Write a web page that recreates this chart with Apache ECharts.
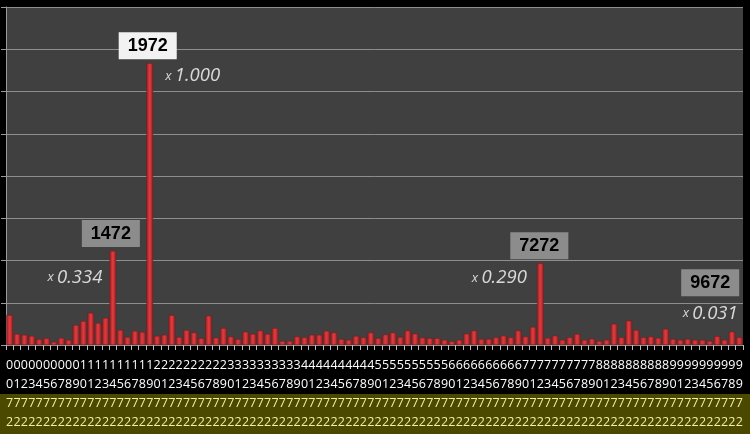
<!DOCTYPE html>
<html>
<head>
<meta charset="utf-8">
<script src="https://cdn.jsdelivr.net/npm/echarts@6/dist/echarts.min.js"></script>
<style>
  html, body { margin: 0; padding: 0; background: #000; }
  #chart { width: 750px; height: 434px; }
</style>
</head>
<body>
<div id="chart"></div>
<script>
const categories = [
  '0072','0172','0272','0372','0472','0572','0672','0772','0872','0972',
  '1072','1172','1272','1372','1472','1572','1672','1772','1872','1972',
  '2072','2172','2272','2372','2472','2572','2672','2772','2872','2972',
  '3072','3172','3272','3372','3472','3572','3672','3772','3872','3972',
  '4072','4172','4272','4372','4472','4572','4672','4772','4872','4972',
  '5072','5172','5272','5372','5472','5572','5672','5772','5872','5972',
  '6072','6172','6272','6372','6472','6572','6672','6772','6872','6972',
  '7072','7172','7272','7372','7472','7572','7672','7772','7872','7972',
  '8072','8172','8272','8372','8472','8572','8672','8772','8872','8972',
  '9072','9172','9272','9372','9472','9572','9672','9772','9872','9972'
];

const values = [
  0.106, 0.039, 0.036, 0.032, 0.020, 0.024, 0.011, 0.025, 0.018, 0.071,
  0.085, 0.114, 0.078, 0.096, 0.334, 0.053, 0.028, 0.050, 0.046, 1.000,
  0.032, 0.036, 0.106, 0.028, 0.053, 0.044, 0.024, 0.104, 0.026, 0.060,
  0.030, 0.021, 0.047, 0.039, 0.051, 0.039, 0.060, 0.014, 0.014, 0.030,
  0.027, 0.036, 0.036, 0.050, 0.044, 0.021, 0.018, 0.032, 0.027, 0.044,
  0.024, 0.037, 0.044, 0.028, 0.051, 0.040, 0.026, 0.024, 0.024, 0.018,
  0.013, 0.018, 0.040, 0.051, 0.021, 0.021, 0.027, 0.033, 0.027, 0.051,
  0.030, 0.064, 0.290, 0.025, 0.033, 0.018, 0.027, 0.039, 0.018, 0.022,
  0.014, 0.018, 0.075, 0.027, 0.086, 0.053, 0.027, 0.030, 0.025, 0.057,
  0.021, 0.018, 0.021, 0.018, 0.018, 0.014, 0.031, 0.018, 0.047, 0.027
];

const peakNames = ['1472', '1972', '7272', '9672'];
const peakRatios = ['0.334', '1.000', '0.290', '0.031'];

// placement of the callouts (pixels), kept apart from the data
const boxStyle = {
  '1472': { bg: '#8c8c8c', offset: [-2, 0] },
  '1972': { bg: '#f2f2f2', offset: [-2, 0] },
  '7272': { bg: '#8c8c8c', offset: [-1, 0] },
  '9672': { bg: '#8c8c8c', offset: [-7, -36] }
};
const ratioPos = {
  '1472': { pos: [-10, 27], align: 'right' },
  '1972': { pos: [16, 13], align: 'left' },
  '7272': { pos: [-13, 15], align: 'right' },
  '9672': { pos: [21, -22], align: 'right' }
};

const barColor = new echarts.graphic.LinearGradient(0, 0, 1, 0, [
  { offset: 0, color: '#8e1e21' },
  { offset: 0.45, color: '#dc3c3f' },
  { offset: 0.6, color: '#d3383b' },
  { offset: 1, color: '#8e1e21' }
]);

const barData = values.map(function (v, i) {
  const name = categories[i];
  const k = peakNames.indexOf(name);
  if (k < 0) return v;
  const s = boxStyle[name];
  return {
    value: v,
    label: {
      show: true,
      position: 'top',
      distance: 4,
      offset: s.offset,
      formatter: name,
      backgroundColor: s.bg,
      color: '#000',
      fontFamily: 'Liberation Sans',
      fontWeight: 'bold',
      fontSize: 18,
      lineHeight: 20,
      padding: [4, 9, 3, 9]
    }
  };
});

const ratioData = peakNames.map(function (name, k) {
  const p = ratioPos[name];
  return {
    value: [name, values[categories.indexOf(name)]],
    label: {
      show: true,
      position: p.pos,
      align: p.align,
      verticalAlign: 'middle',
      formatter: '{x|x} {n|' + peakRatios[k] + '}'
    }
  };
});

const chart = echarts.init(document.getElementById('chart'));
chart.setOption({
  backgroundColor: '#000',
  animation: false,
  graphic: {
    elements: [{
      type: 'rect',
      z: -10,
      shape: { x: 0, y: 394, width: 750, height: 40 },
      style: { fill: '#4b4800' }
    }]
  },
  grid: {
    left: 6, right: 7, top: 7, bottom: 89,
    show: true, backgroundColor: '#404040', borderWidth: 0
  },
  xAxis: {
    type: 'category',
    data: categories,
    axisLine: { lineStyle: { color: '#9a9a9a', width: 1 } },
    axisTick: { show: true, length: 5, lineStyle: { color: '#bdbdbd' } },
    axisLabel: {
      interval: 0,
      margin: 11,
      formatter: function (v) {
        return '{a|' + v[0] + '}\n{a|' + v[1] + '}\n{b|' + v[2] + '}\n{b|' + v[3] + '}';
      },
      rich: {
        a: { color: '#ffffff', fontSize: 12.5, lineHeight: 19, fontFamily: 'Open Sans' },
        b: { color: '#f2efa8', fontSize: 12.5, lineHeight: 19, fontFamily: 'Open Sans' }
      }
    }
  },
  yAxis: {
    type: 'value',
    min: 0, max: 1.2, interval: 0.15,
    axisLine: { show: true, lineStyle: { color: '#9a9a9a' } },
    axisTick: { show: true, length: 5, lineStyle: { color: '#9a9a9a' } },
    axisLabel: { show: false },
    splitLine: { lineStyle: { color: '#8e8e8e', width: 1 } }
  },
  series: [{
    type: 'bar',
    data: barData,
    barCategoryGap: '9%',
    itemStyle: { color: barColor, borderColor: '#7a1a1c', borderWidth: 0.5 }
  }, {
    type: 'scatter',
    data: ratioData,
    symbolSize: 1,
    itemStyle: { color: 'rgba(0,0,0,0)' },
    silent: true,
    z: 5,
    label: {
      rich: {
        x: { color: '#ffffff', fontSize: 13, fontStyle: 'italic', fontFamily: 'Open Sans' },
        n: { color: '#ffffff', fontSize: 18.5, fontStyle: 'italic', fontFamily: 'Open Sans' }
      }
    }
  }]
});
</script>
</body>
</html>
